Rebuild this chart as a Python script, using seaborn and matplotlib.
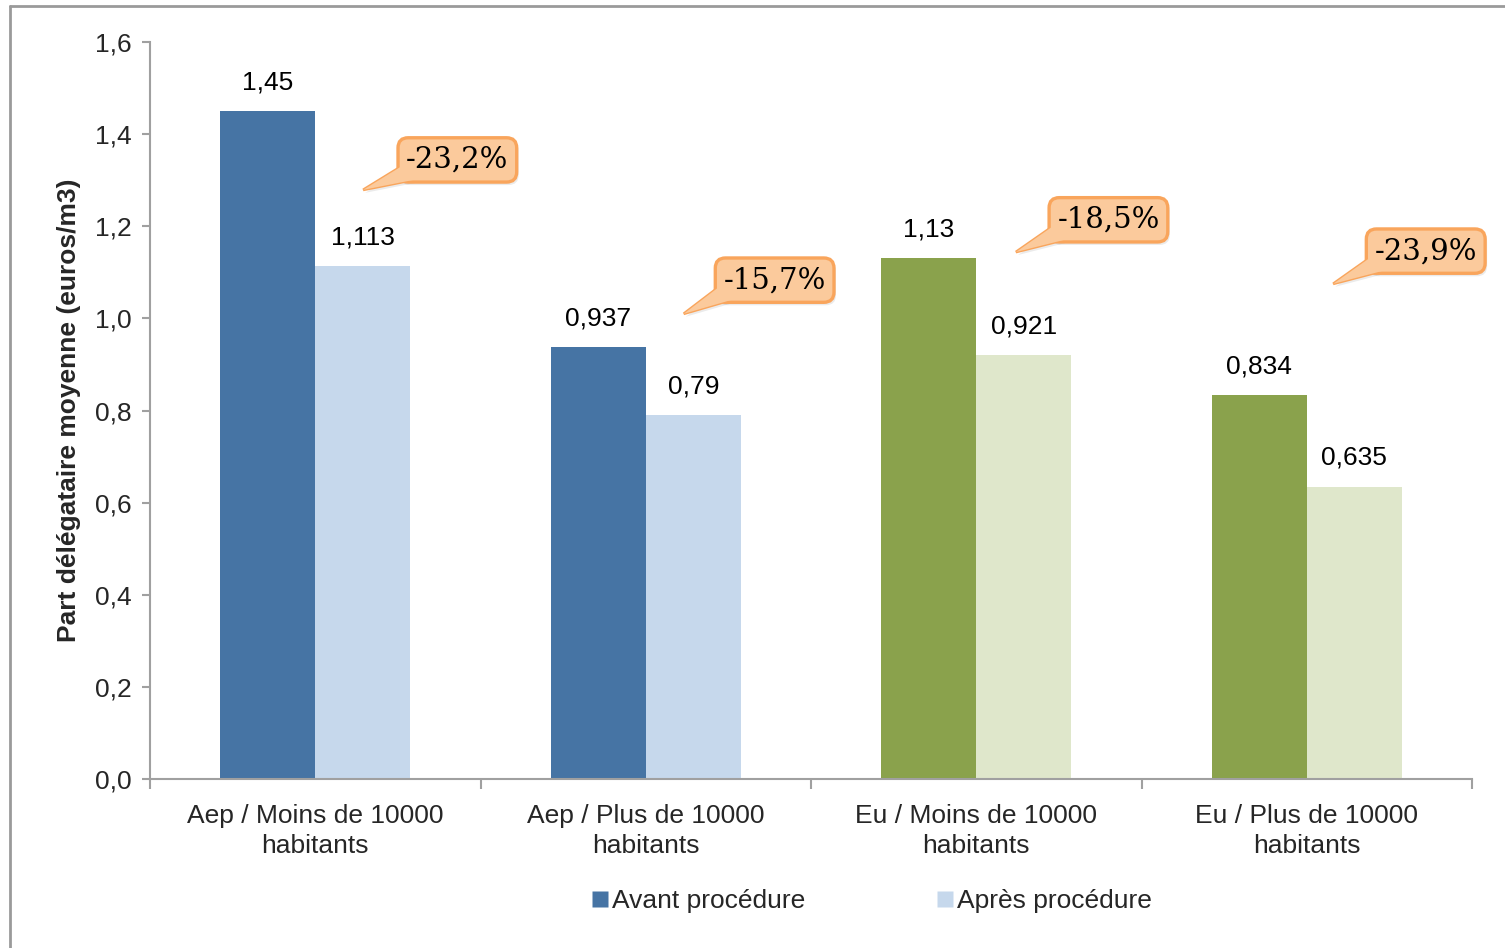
import matplotlib
matplotlib.use("Agg")
import matplotlib.pyplot as plt
import seaborn as sns
import pandas as pd
import numpy as np
from matplotlib.ticker import FuncFormatter, FixedLocator
from matplotlib.lines import Line2D
from matplotlib.patches import Polygon

# ---- data ----
categories = ["Aep / Moins de 10000\nhabitants", "Aep / Plus de 10000\nhabitants",
              "Eu / Moins de 10000\nhabitants", "Eu / Plus de 10000\nhabitants"]
phases = ["Avant procédure", "Après procédure"]
avant = [1.45, 0.937, 1.13, 0.834]
apres = [1.113, 0.79, 0.921, 0.635]
variations = ["-23,2%", "-15,7%", "-18,5%", "-23,9%"]
y_label = "Part délégataire moyenne (euros/m3)"

# ---- styles / layout ----
avant_colors = ["#4674A4", "#4674A4", "#8AA24C", "#8AA24C"]
apres_colors = ["#C6D8EC", "#C6D8EC", "#DFE7CB", "#DFE7CB"]
callout_box_dx = [0.43, 0.39, 0.40, 0.36]      # offset from category centre
callout_box_y = [1.344, 1.083, 1.214, 1.146]
callout_tip_dx = [0.145, 0.115, 0.12, 0.08]
callout_tip_y = [1.279, 1.01, 1.144, 1.075]
callout_fc = "#FBCA9C"
callout_ec = "#F9A55C"

sns.set_theme(style="white")
plt.rcParams["font.family"] = ["Liberation Sans", "DejaVu Sans"]

df = pd.DataFrame({
    "cat": categories * 2,
    "phase": [phases[0]] * 4 + [phases[1]] * 4,
    "val": avant + apres,
})

W, H = 1505, 948
fig = plt.figure(figsize=(W / 100, H / 100), dpi=100)
ax = fig.add_axes([150 / W, 1 - 779 / H, (1472 - 150) / W, (779 - 42) / H])

sns.barplot(data=df, x="cat", y="val", hue="phase", order=categories,
            hue_order=phases, width=0.575, ax=ax, legend=False,
            palette=["#4674A4", "#C6D8EC"], saturation=1)

for bar, c in zip(ax.containers[0], avant_colors):
    bar.set_facecolor(c)
    bar.set_edgecolor("none")
for bar, c in zip(ax.containers[1], apres_colors):
    bar.set_facecolor(c)
    bar.set_edgecolor("none")

fmt = lambda v: str(v).replace(".", ",")
for cont in ax.containers:
    ax.bar_label(cont, labels=[fmt(b.get_height()) for b in cont], padding=12,
                 fontsize=19, color="black")

ax.set_ylim(0, 1.6)
ax.set_xlim(-0.5, 3.5)
ax.yaxis.set_major_locator(FixedLocator([0, 0.2, 0.4, 0.6, 0.8, 1.0, 1.2, 1.4, 1.6]))
ax.yaxis.set_major_formatter(FuncFormatter(lambda v, p: f"{v:.1f}".replace(".", ",")))
ax.set_xlabel("")
ax.set_ylabel(y_label, fontsize=19, fontweight="bold", labelpad=10)

gray = "#A0A0A0"
for s in ["top", "right"]:
    ax.spines[s].set_visible(False)
for s in ["left", "bottom"]:
    ax.spines[s].set_color(gray)
    ax.spines[s].set_linewidth(1.5)

ax.tick_params(axis="y", which="major", direction="out", length=6, width=1.5,
               color=gray, labelsize=19, pad=7, left=True)
ax.tick_params(axis="x", which="major", length=0, labelsize=19, pad=18)
ax.xaxis.set_minor_locator(FixedLocator([-0.5, 0.5, 1.5, 2.5, 3.5]))
ax.tick_params(axis="x", which="minor", direction="out", length=7, width=1.5,
               color=gray, bottom=True)
for t in ax.get_xticklabels():
    t.set_linespacing(1.3)

# callouts (speech bubbles)
inv = ax.transData.inverted()
for i, txt in enumerate(variations):
    bx, by = i + callout_box_dx[i], callout_box_y[i]
    tx, ty = i + callout_tip_dx[i], callout_tip_y[i]
    cx, cy = ax.transData.transform((bx, by))
    base = [(cx - 52, cy - 4), (cx - 44, cy - 20)]
    tip = tuple(ax.transData.transform((tx, ty)))
    pts = inv.transform(np.array([tip] + base))
    # soft shadow
    shadow_pts = inv.transform(np.array([tip] + base) + np.array([2, -3]))
    ax.add_patch(Polygon(shadow_pts, closed=True, fc="#000000", alpha=0.08,
                         ec="none", zorder=3.5))
    ax.text(bx, by, txt, ha="center", va="center", fontsize=21, alpha=0,
            family=["DejaVu Serif"], zorder=3.6,
            bbox=dict(boxstyle="round,pad=0.28,rounding_size=0.35",
                      fc="#000000", ec="none", alpha=0.08),
            transform=ax.transData + matplotlib.transforms.ScaledTranslation(
                2 / 100, -3 / 100, fig.dpi_scale_trans))
    ax.add_patch(Polygon(pts, closed=True, fc=callout_fc, ec=callout_ec, lw=2,
                         zorder=4, joinstyle="miter"))
    ax.text(bx, by, txt, ha="center", va="center", fontsize=21,
            family=["DejaVu Serif"], color="black", zorder=5,
            bbox=dict(boxstyle="round,pad=0.28,rounding_size=0.35",
                      fc=callout_fc, ec=callout_ec, lw=2.4))
    ax.add_patch(Polygon(pts, closed=True, fc=callout_fc, ec="none", zorder=5.5))

# legend
handles = [Line2D([0], [0], marker="s", linestyle="none", markersize=11,
                  markerfacecolor=c, markeredgecolor="none") for c in ["#4674A4", "#C6D8EC"]]
fig.legend(handles, phases, loc="center", bbox_to_anchor=(872 / W, 1 - 901 / H),
           ncol=2, frameon=False, fontsize=19, handlelength=0.6, handletextpad=0.15,
           columnspacing=5.0)

# outer chart border (top and left visible)
fig.add_artist(Line2D([10 / W, 1], [1 - 6 / H, 1 - 6 / H], color="#9A9A9A",
                      lw=2, transform=fig.transFigure))
fig.add_artist(Line2D([10 / W, 10 / W], [0, 1 - 6 / H], color="#9A9A9A",
                      lw=2, transform=fig.transFigure))

fig.savefig("out.png", dpi=100)
